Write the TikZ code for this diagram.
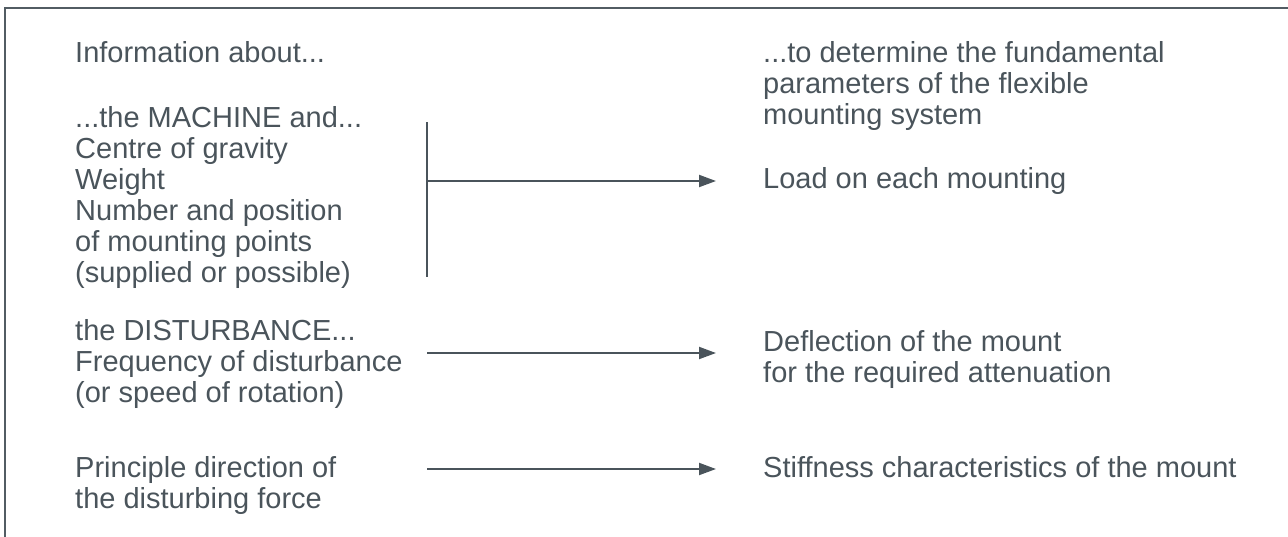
\documentclass[tikz,border=0pt]{standalone}
\usepackage{fontspec}
\setmainfont{Liberation Sans}
\usetikzlibrary{arrows.meta}
\definecolor{ink}{HTML}{4A545B}
\definecolor{framec}{HTML}{525C63}
\tikzset{
  txt/.style={anchor=base west, inner sep=0pt, text=ink, font=\fontsize{29}{31}\selectfont},
  conn/.style={draw=ink, line width=2pt},
  arr/.style={conn, -{Triangle[length=17pt,width=12pt]}},
}
\begin{document}
\begin{tikzpicture}[x=1pt,y=-1pt]
\useasboundingbox (0,0) rectangle (1288,536);
\draw[framec, line width=2pt] (1292,8) -- (5,8) -- (5,540);
% left column
\node[txt] (info) at (75,62) {Information about...};
\node[txt] (machine) at (75,127) {\vtop{\hbox{...the MACHINE and...}\hbox{Centre of gravity}\hbox{Weight}\hbox{Number and position}\hbox{of mounting points}\hbox{(supplied or possible)}}};
\node[txt] (dist) at (75,340) {\vtop{\hbox{the DISTURBANCE...}\hbox{Frequency of disturbance}\hbox{(or speed of rotation)}}};
\node[txt] (dir) at (75,477) {\vtop{\hbox{Principle direction of}\hbox{the disturbing force}}};
% right column
\node[txt] (determine) at (763,62) {\vtop{\hbox{...to determine the fundamental}\hbox{parameters of the flexible}\hbox{mounting system}}};
\node[txt] (load) at (763,188) {Load on each mounting};
\node[txt] (defl) at (763,351) {\vtop{\hbox{Deflection of the mount}\hbox{for the required attenuation}}};
\node[txt] (stiff) at (763,477) {Stiffness characteristics of the mount};
% connectors
\coordinate (bartop) at (427,122);
\coordinate (barbot) at (427,277);
\coordinate (barmid) at (427,181);
\coordinate (loadin) at (716,181);
\coordinate (diststart) at (427,353);
\coordinate (deflin) at (716,353);
\coordinate (dirstart) at (427,469);
\coordinate (stiffin) at (716,469);
\draw[conn] (bartop) -- (barbot);
\draw[arr] (barmid) -- (loadin);
\draw[arr] (diststart) -- (deflin);
\draw[arr] (dirstart) -- (stiffin);
\end{tikzpicture}
\end{document}
